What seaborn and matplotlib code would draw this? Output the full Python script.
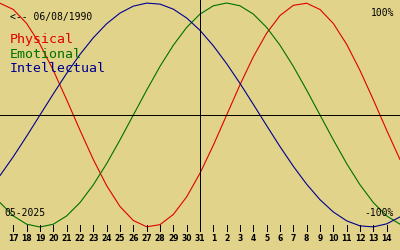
import matplotlib
matplotlib.use("Agg")
import matplotlib.pyplot as plt
import seaborn as sns
import pandas as pd

# day positions (0 = May 16 ... 30 = June 15)
days_pos = list(range(31))
physical = [0.998, 0.942, 0.817, 0.631, 0.398, 0.136, -0.136, -0.398, -0.631, -0.817,
            -0.942, -0.998, -0.979, -0.888, -0.731, -0.520, -0.270, 0.0, 0.270, 0.520,
            0.731, 0.888, 0.979, 0.998, 0.942, 0.817, 0.631, 0.398, 0.136, -0.136, -0.398]
emotional = [-0.782, -0.901, -0.975, -1.0, -0.975, -0.901, -0.782, -0.623, -0.434, -0.222,
             0.0, 0.222, 0.434, 0.623, 0.782, 0.901, 0.975, 1.0, 0.975, 0.901,
             0.782, 0.623, 0.434, 0.222, 0.0, -0.222, -0.434, -0.623, -0.782, -0.901, -0.975]
intellectual = [-0.541, -0.372, -0.189, 0.0, 0.189, 0.372, 0.541, 0.690, 0.815, 0.910,
                0.972, 0.999, 0.990, 0.945, 0.866, 0.756, 0.618, 0.458, 0.282, 0.095,
                -0.095, -0.282, -0.458, -0.618, -0.756, -0.866, -0.945, -0.990, -0.999, -0.972, -0.910]
tick_labels = [17, 18, 19, 20, 21, 22, 23, 24, 25, 26, 27, 28, 29, 30, 31,
               1, 2, 3, 4, 5, 6, 7, 8, 9, 10, 11, 12, 13, 14]
today_pos = 15
series_names = ["Physical", "Emotional", "Intellectual"]
series_colors = ["#e00000", "#007000", "#000090"]
birth_label = "<-- 06/08/1990"
month_label = "05-2025"

BG = "#e1d38a"
W, H = 400, 250
LW = 0.8

def vy(py):
    return 1 - (py - 3) / 112.0

sns.set_style("white")
plt.rcParams["font.family"] = ["DejaVu Sans Mono", "DejaVu Sans"]

fig = plt.figure(figsize=(W / 100, H / 100), dpi=100)
fig.patch.set_facecolor(BG)
ax = fig.add_axes([0, 0, 1, 1])
ax.set_facecolor(BG)

df = pd.DataFrame({
    "pos": days_pos * 3,
    "value": physical + emotional + intellectual,
    "series": [series_names[0]] * 31 + [series_names[1]] * 31 + [series_names[2]] * 31,
})
sns.lineplot(data=df, x="pos", y="value", hue="series", palette=series_colors,
             hue_order=series_names, linewidth=LW, ax=ax, legend=False,
             estimator=None, sort=False)

ax.set_xlim(0, 30)
ax.set_ylim(vy(250), vy(0))
ax.axhline(vy(115.2), color="black", linewidth=0.72, antialiased=False)
ax.vlines(today_pos, vy(228), vy(0), color="black", linewidth=0.72, antialiased=False)

tick_pos = list(range(1, 1 + len(tick_labels)))
ax.vlines(tick_pos, vy(231), vy(225), color="black", linewidth=0.72, antialiased=False)
for p, lab in zip(tick_pos, tick_labels):
    ax.text(p, vy(241), str(lab), ha="center", va="baseline", fontsize=5.5,
            fontweight="bold", family="DejaVu Sans", color="black")

def ptext(px, py, s, **kw):
    ax.text(px / W, 1 - py / H, s, transform=ax.transAxes, va="baseline", **kw)

ptext(10, 20, birth_label, fontsize=7.0, color="black")
ptext(10, 43, series_names[0], fontsize=9.5, color=series_colors[0])
ptext(10, 57.5, series_names[1], fontsize=9.5, color=series_colors[1])
ptext(10, 72.5, series_names[2], fontsize=9.5, color=series_colors[2])
ptext(394, 16, "100%", fontsize=7.0, color="black", ha="right")
ptext(394, 216, "-100%", fontsize=7.0, color="black", ha="right")
ptext(4, 216, month_label, fontsize=7.0, color="black")

ax.set_xticks([])
ax.set_yticks([])
ax.set_xlabel("")
ax.set_ylabel("")
for s in ax.spines.values():
    s.set_visible(False)

fig.savefig("out.png", dpi=100, facecolor=BG)
